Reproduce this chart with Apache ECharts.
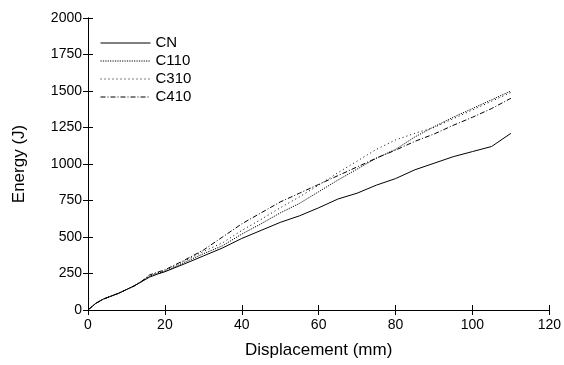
<!DOCTYPE html>
<html><head><meta charset="utf-8">
<script src="https://cdn.jsdelivr.net/npm/echarts@6/dist/echarts.min.js"></script>
<style>html,body{margin:0;padding:0;background:#fff}#c{width:564px;height:365px}</style>
</head><body><div id="c"></div>
<script>
var displacement = [0,2,4,6,8,10,12,14,16,18,20,25,30,35,40,45,50,55,60,65,70,75,80,85,90,95,100,105,110];
var CN   = [0,45,75,95,115,140,165,195,225,245,262,315,370,425,490,545,600,645,700,760,800,855,900,960,1005,1050,1085,1120,1210];
var C110 = [0,45,75,95,115,140,165,195,230,250,265,325,385,440,520,590,665,730,810,890,965,1040,1100,1185,1255,1320,1380,1440,1500];
var C310 = [0,45,75,95,115,140,165,196,235,255,270,335,400,460,545,620,700,775,855,940,1020,1100,1165,1210,1250,1310,1370,1430,1490];
var C410 = [0,45,75,95,115,140,165,198,240,258,275,340,410,500,590,665,740,800,860,920,980,1040,1095,1155,1205,1265,1320,1380,1450];
var xTicks = [0,20,40,60,80,100,120];
var yTicks = [0,250,500,750,1000,1250,1500,1750,2000];

function pairs(v){ return displacement.map(function(x,i){ return [x, v[i]]; }); }
var FONT = 'Liberation Sans, Arial, sans-serif';
var chart = echarts.init(document.getElementById('c'), null, {renderer:'canvas'});
function mk(name, data, type){
  return {name:name, type:'line', data:pairs(data), symbol:'none', smooth:false,
    lineStyle:{color:'#000', width:1, type:type}, itemStyle:{color:'#000'}, xAxisIndex:0, yAxisIndex:0};
}
var axisLine = {show:true, lineStyle:{color:'#000', width:1}};
chart.setOption({
  animation:false,
  backgroundColor:'#fff',
  grid:{left:88, right:14, top:18, bottom:55},
  legend:{orient:'vertical', left:95, top:30, itemWidth:50, itemHeight:12, itemGap:2,
    itemStyle:{opacity:0}, lineStyle:{width:1},
    textStyle:{fontFamily:FONT, fontSize:15, color:'#000', lineHeight:16},
    data:['CN','C110','C310','C410']},
  xAxis:[{type:'value', min:0, max:120, interval:20, position:'bottom',
    name:'Displacement (mm)', nameLocation:'middle', nameGap:32,
    nameTextStyle:{fontFamily:FONT, fontSize:17, color:'#000'},
    axisLine:axisLine, axisTick:{show:true, inside:true, length:5, lineStyle:{color:'#000'}},
    axisLabel:{fontFamily:FONT, fontSize:14, color:'#000', margin:8,
      formatter:function(v){ return xTicks.indexOf(v)>=0 ? String(v) : ''; }},
    splitLine:{show:false}},
   {type:'value', min:0, max:120, interval:20, position:'top',
    axisLine:axisLine, axisTick:{show:true, inside:true, length:5, lineStyle:{color:'#000'}},
    axisLabel:{show:false}, splitLine:{show:false}}],
  yAxis:[{type:'value', min:0, max:2000, interval:250, position:'left',
    name:'Energy (J)', nameLocation:'middle', nameGap:60,
    nameTextStyle:{fontFamily:FONT, fontSize:17, color:'#000'},
    axisLine:axisLine, axisTick:{show:true, inside:true, length:5, lineStyle:{color:'#000'}},
    axisLabel:{fontFamily:FONT, fontSize:14, color:'#000', margin:6,
      formatter:function(v){ return yTicks.indexOf(v)>=0 ? String(v) : ''; }},
    splitLine:{show:false}},
   {type:'value', min:0, max:2000, interval:250, position:'right',
    axisLine:axisLine, axisTick:{show:true, inside:true, length:5, lineStyle:{color:'#000'}},
    axisLabel:{show:false}, splitLine:{show:false}}],
  series:[
    mk('CN', CN, 'solid'),
    mk('C110', C110, [1.2,1.2]),
    mk('C310', C310, [1,3]),
    mk('C410', C410, [5,2,1,2])
  ]
});
</script></body></html>
